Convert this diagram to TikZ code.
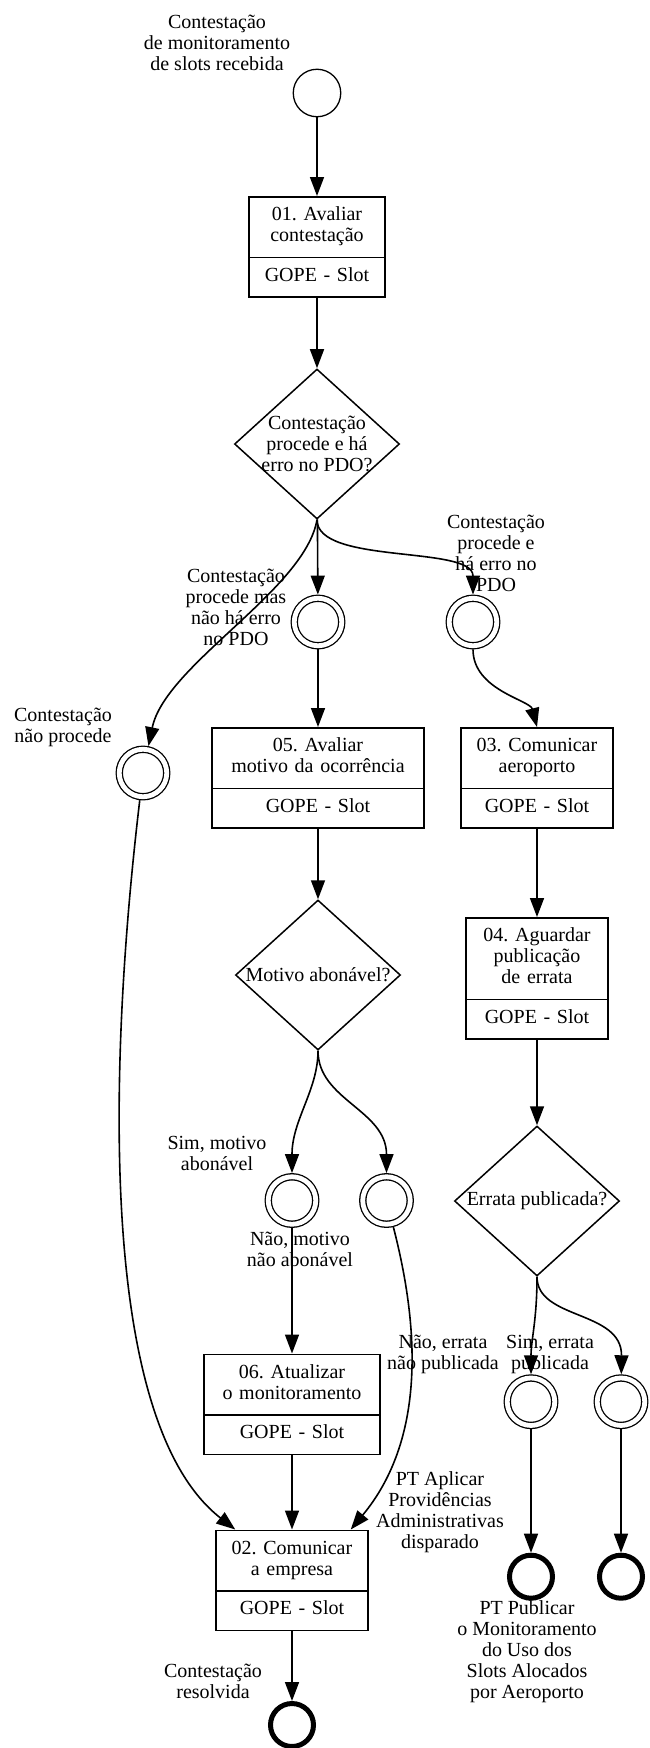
\documentclass[tikz,border=0pt]{standalone}
\usepackage{fontspec}
\setmainfont{Liberation Serif}
\frenchspacing
\usetikzlibrary{shapes.geometric,shapes.multipart,arrows.meta}

\tikzset{
    flow/.style={draw, line width=1.6pt, -{Triangle[length=19pt,width=14pt]}},
    task/.style={rectangle split, rectangle split parts=2, draw, line width=1.5pt,
        anchor=north, align=center, inner xsep=0pt, inner ysep=8.5pt,
        font=\fontsize{20}{21}\selectfont},
    gate/.style={diamond, draw, line width=1.5pt, inner sep=0pt,
        minimum width=165pt, minimum height=150pt},
    startev/.style={circle, draw, line width=1.3pt, inner sep=0pt, minimum size=47.5pt},
    midev/.style={circle, draw, line width=1.3pt, double, double distance=4.8pt,
        inner sep=0pt, minimum size=47.5pt, outer sep=3.7pt},
    endev/.style={circle, draw, line width=5pt, inner sep=0pt, minimum size=43pt},
    lbl/.style={align=center, inner sep=0pt, font=\fontsize{20}{21}\selectfont},
}

\begin{document}
\begin{tikzpicture}[x=1pt, y=1pt]
    \useasboundingbox (0,0) rectangle (649,-1748);

    % eventos, tarefas e gateways
    \node[startev] (inicio) at (317,-93) {};
    \node[task, text width=136pt] (t01) at (317,-196)
        {\strut 01. Avaliar\\contestação\strut \nodepart{two}\strut GOPE - Slot};
    \node[gate] (d1) at (317,-444) {};
    \node[lbl] (d1txt) at (d1) {Contestação\\procede e há\\erro no PDO?};
    \node[midev] (cmas) at (318,-622) {};
    \node[midev] (cerro) at (473,-622) {};
    \node[midev] (cnao) at (143,-773) {};
    \node[task, text width=212pt] (t05) at (318,-727)
        {\strut 05. Avaliar\\motivo da ocorrência\strut \nodepart{two}\strut GOPE - Slot};
    \node[task, text width=152pt] (t03) at (537,-727)
        {\strut 03. Comunicar\\aeroporto\strut \nodepart{two}\strut GOPE - Slot};
    \node[gate] (d2) at (318,-975) {};
    \node[lbl] (d2txt) at (d2) {Motivo abonável?};
    \node[task, text width=142pt] (t04) at (537,-917)
        {\strut 04. Aguardar\\publicação\\de errata\strut \nodepart{two}\strut GOPE - Slot};
    \node[gate] (d3) at (537,-1201) {};
    \node[lbl] (d3txt) at (d3) {Errata publicada?};
    \node[midev] (csim) at (292,-1200.5) {};
    \node[midev] (cnaomot) at (386.5,-1200.5) {};
    \node[task, text width=176pt] (t06) at (292,-1353.5)
        {\strut 06. Atualizar\\o monitoramento\strut \nodepart{two}\strut GOPE - Slot};
    \node[midev] (cerrsim) at (531,-1401.7) {};
    \node[midev] (cerrnao) at (621,-1401.7) {};
    \node[task, text width=152pt] (t02) at (292,-1529.5)
        {\strut 02. Comunicar\\a empresa\strut \nodepart{two}\strut GOPE - Slot};
    \node[endev] (fim) at (292,-1725) {};
    \node[endev] (fimpub) at (531,-1576.7) {};
    \node[endev] (fimnao) at (621,-1576.7) {};

    % textos soltos
    \node[lbl] (lini) at (217,-43) {Contestação\\de monitoramento\\de slots recebida};
    \node[lbl] (lmas) at (236,-607) {Contestação\\procede mas\\não há erro\\no PDO};
    \node[lbl] (lerro) at (496,-553) {Contestação\\procede e\\há erro no\\PDO};
    \node[lbl] (lnao) at (63,-727) {Contestação\\não procede};
    \node[lbl] (lsim) at (217,-1153) {Sim, motivo\\abonável};
    \node[lbl] (lnaomot) at (300,-1249) {Não, motivo\\não abonável};
    \node[lbl] (lerrnao) at (443,-1354) {Não, errata\\não publicada};
    \node[lbl] (lerrsim) at (550,-1354) {Sim, errata\\publicada};
    \node[lbl] (lpt) at (440,-1512) {PT Aplicar\\Providências\\Administrativas\\disparado};
    \node[lbl] (lpub) at (527,-1652) {PT Publicar\\o Monitoramento\\do Uso dos\\Slots Alocados\\por Aeroporto};
    \node[lbl] (lres) at (213,-1681) {Contestação\\resolvida};

    \foreach \a/\b in {inicio/t01, t01/d1, d1/cmas, cmas/t05, t05/d2, t03/t04, t04/d3,
        csim/t06, t06/t02, t02/fim, cerrsim/fimpub, cerrnao/fimnao}
        \draw[flow] (\a) -- (\b);

    % ligacoes curvas
    \draw[flow] (d1.south) .. controls (305,-590) and (165,-665) .. (cnao);
    \draw[flow] (d1.south) .. controls (317,-565) and (473,-545) .. (cerro);
    \draw[flow] (cerro) .. controls (473,-690) and (530,-700) .. (t03.north);
    \draw[flow] (d2.south) .. controls (318,-1090) and (292,-1120) .. (csim);
    \draw[flow] (d2.south) .. controls (318,-1100) and (386.5,-1110) .. (cnaomot);
    \draw[flow] (cnao) .. controls (110,-1050) and (95,-1420) .. ([xshift=20pt]t02.north west);
    \draw[flow] (cnaomot) .. controls (420,-1330) and (425,-1440) .. ([xshift=-18pt]t02.north east);
    \draw[flow] (d3.south) .. controls (537,-1320) and (531,-1340) .. (cerrsim);
    \draw[flow] (d3.south) .. controls (537,-1320) and (622,-1310) .. (cerrnao);
\end{tikzpicture}
\end{document}
